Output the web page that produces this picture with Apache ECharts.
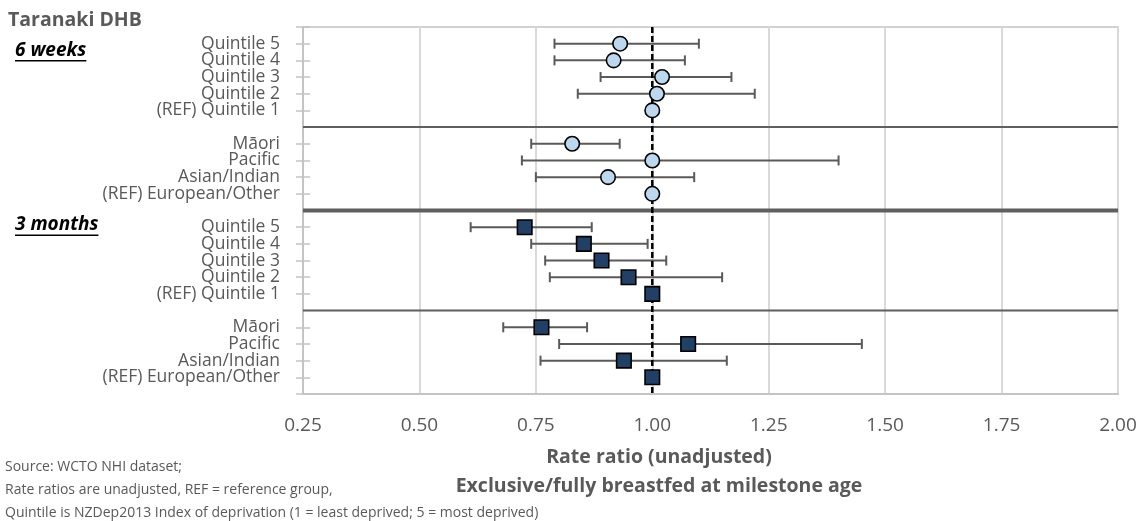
<!DOCTYPE html>
<html>
<head>
<meta charset="utf-8">
<script src="https://cdn.jsdelivr.net/npm/echarts@6/dist/echarts.min.js"></script>
<style>
html,body{margin:0;padding:0;background:#fff;}
#chart{width:1143px;height:521px;}
</style>
</head>
<body>
<div id="chart"></div>
<script>
// ---- Data ----
const quintileLabels = ['Quintile 5', 'Quintile 4', 'Quintile 3', 'Quintile 2', '(REF) Quintile 1'];
const ethnicLabels = ['Māori', 'Pacific', 'Asian/Indian', '(REF) European/Other'];

// 6 weeks
const wk6QuintRR = [0.931, 0.917, 1.021, 1.010, 1.000];
const wk6QuintLo = [0.79, 0.79, 0.889, 0.84, null];
const wk6QuintHi = [1.10, 1.07, 1.17, 1.22, null];
const wk6EthRR = [0.828, 1.000, 0.905, 1.000];
const wk6EthLo = [0.74, 0.72, 0.75, null];
const wk6EthHi = [0.93, 1.40, 1.09, null];

// 3 months
const mo3QuintRR = [0.726, 0.853, 0.891, 0.949, 1.000];
const mo3QuintLo = [0.61, 0.74, 0.77, 0.78, null];
const mo3QuintHi = [0.87, 0.99, 1.03, 1.15, null];
const mo3EthRR = [0.762, 1.077, 0.939, 1.000];
const mo3EthLo = [0.68, 0.80, 0.76, null];
const mo3EthHi = [0.86, 1.45, 1.16, null];

const xTicks = [0.25, 0.50, 0.75, 1.00, 1.25, 1.50, 1.75, 2.00];

// ---- Build rows (category slots incl. edges and separators) ----
const cats = [''];          // top edge slot
const sepIdx = [];
const circles = [], squares = [], bars = [];
function addBlock(labels, rr, lo, hi, target) {
  labels.forEach((lab, i) => {
    const idx = cats.length;
    cats.push(lab);
    target.push([rr[i], idx]);
    if (lo[i] != null) bars.push([lo[i], hi[i], idx]);
  });
}
function addSep() { sepIdx.push(cats.length); cats.push(''); }
addBlock(quintileLabels, wk6QuintRR, wk6QuintLo, wk6QuintHi, circles);
addSep();
addBlock(ethnicLabels, wk6EthRR, wk6EthLo, wk6EthHi, circles);
addSep();
addBlock(quintileLabels, mo3QuintRR, mo3QuintLo, mo3QuintHi, squares);
addSep();
addBlock(ethnicLabels, mo3EthRR, mo3EthLo, mo3EthHi, squares);
cats.push(''); // bottom edge slot
const lastIdx = cats.length - 1;

const FONT = 'Open Sans';
const GREY = '#595959';
const GROUP_FONT = 'italic bold 19px "Open Sans"';
const mctx = document.createElement('canvas').getContext('2d');
mctx.font = GROUP_FONT;
const w6 = mctx.measureText('6 weeks').width;
const w3 = mctx.measureText('3 months').width;

const chart = echarts.init(document.getElementById('chart'));
const sepSeries = sepIdx.map((s, k) => ({
  type: 'line',
  data: [[xTicks[0], s], [xTicks[xTicks.length - 1], s]],
  symbol: 'none',
  lineStyle: { color: '#5f5f5f', width: k === 1 ? 4 : 2 },
  z: 3, silent: true, animation: false
}));

chart.setOption({
  animation: false,
  grid: { left: 303, right: 25, top: 27, bottom: 127, show: true, borderColor: '#c4c4c4', borderWidth: 1.5 },
  xAxis: {
    type: 'value', min: 0.25, max: 2.0, interval: 0.25,
    axisLine: { show: true, lineStyle: { color: '#c4c4c4', width: 2 } },
    axisTick: { show: false },
    splitLine: { show: true, lineStyle: { color: '#d9d9d9', width: 2 } },
    axisLabel: { formatter: v => v.toFixed(2), color: GREY, fontFamily: FONT, fontSize: 19, margin: 22 }
  },
  yAxis: [{
    type: 'category', data: cats, inverse: true, boundaryGap: false,
    axisLine: { show: true, lineStyle: { color: '#c4c4c4', width: 2 } },
    axisTick: { show: true, length: 7, lineStyle: { color: '#c4c4c4', width: 1.5 },
      interval: (i) => sepIdx.indexOf(i) < 0 },
    axisLabel: { color: GREY, fontFamily: FONT, fontSize: 17.5, margin: 23, interval: 0 },
    splitLine: { show: false }
  }, {
    type: 'category', data: cats, inverse: true, boundaryGap: false, position: 'left',
    axisLine: { show: false },
    axisTick: { show: true, inside: true, length: 7, lineStyle: { color: '#c4c4c4', width: 1.5 },
      interval: (i) => sepIdx.indexOf(i) < 0 },
    axisLabel: { show: false },
    splitLine: { show: false }
  }],
  series: [
    ...sepSeries,
    {
      type: 'custom',
      data: bars,
      encode: { x: [0, 1], y: 2 },
      z: 4,
      renderItem: function (params, api) {
        const a = api.coord([api.value(0), api.value(2)]);
        const b = api.coord([api.value(1), api.value(2)]);
        const h = 5;
        const st = { stroke: '#5a5a5a', lineWidth: 2 };
        return {
          type: 'group',
          children: [
            { type: 'line', shape: { x1: a[0], y1: a[1], x2: b[0], y2: b[1] }, style: st },
            { type: 'line', shape: { x1: a[0], y1: a[1] - h, x2: a[0], y2: a[1] + h }, style: st },
            { type: 'line', shape: { x1: b[0], y1: b[1] - h, x2: b[0], y2: b[1] + h }, style: st }
          ]
        };
      }
    },
    {
      type: 'line',
      data: [[1.0, 0], [1.0, lastIdx]],
      symbol: 'none',
      lineStyle: { color: '#000', width: 2.5, type: [6, 3] },
      z: 5, silent: true
    },
    {
      type: 'scatter', data: circles, symbol: 'circle', symbolSize: 14.5, z: 6,
      itemStyle: { color: '#BDD7EE', borderColor: '#000', borderWidth: 1.6, opacity: 1 }
    },
    {
      type: 'scatter', data: squares, symbol: 'rect', symbolSize: 14.5, z: 6,
      itemStyle: { color: '#223F66', borderColor: '#000', borderWidth: 1.6, opacity: 1 }
    }
  ],
  graphic: [
    { type: 'text', x: 8, y: 20, style: { text: 'Taranaki DHB', font: 'bold 19.5px "Open Sans"', fill: GREY, verticalAlign: 'middle' } },
    { type: 'text', x: 15, y: 51, style: { text: '6 weeks', font: GROUP_FONT, fill: '#000', verticalAlign: 'middle' } },
    { type: 'rect', shape: { x: 15, y: 60, width: w6, height: 1.5 }, style: { fill: '#000' } },
    { type: 'text', x: 15, y: 225, style: { text: '3 months', font: GROUP_FONT, fill: '#000', verticalAlign: 'middle' } },
    { type: 'rect', shape: { x: 15, y: 234.5, width: w3, height: 1.5 }, style: { fill: '#000' } },
    { type: 'text', x: 659, y: 457, style: { text: 'Rate ratio (unadjusted)', font: 'bold 19.5px "Open Sans"', fill: GREY, align: 'center', verticalAlign: 'middle' } },
    { type: 'text', x: 659, y: 486, style: { text: 'Exclusive/fully breastfed at milestone age', font: 'bold 19.5px "Open Sans"', fill: GREY, align: 'center', verticalAlign: 'middle' } },
    { type: 'text', x: 5, y: 467, style: { text: 'Source: WCTO NHI dataset;', font: '14px "Open Sans"', fill: GREY, verticalAlign: 'middle' } },
    { type: 'text', x: 5, y: 490, style: { text: 'Rate ratios are unadjusted, REF = reference group,', font: '14px "Open Sans"', fill: GREY, verticalAlign: 'middle' } },
    { type: 'text', x: 5, y: 513, style: { text: 'Quintile is NZDep2013 Index of deprivation (1 = least deprived; 5 = most deprived)', font: '14px "Open Sans"', fill: GREY, verticalAlign: 'middle' } }
  ]
});
</script>
</body>
</html>
